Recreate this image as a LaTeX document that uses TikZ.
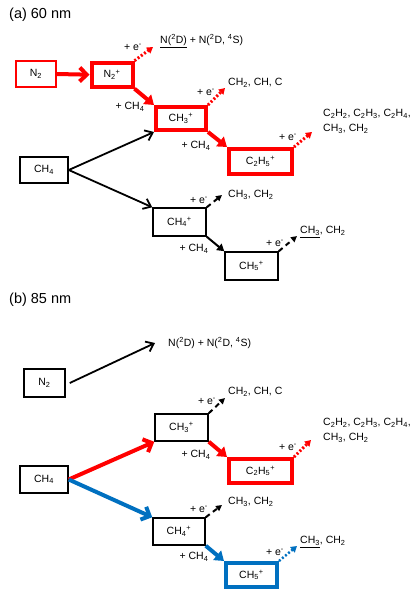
\documentclass[tikz,border=0pt]{standalone}
\usepackage{fontspec}
\setmainfont{Liberation Sans}
\usetikzlibrary{arrows.meta}
\definecolor{myred}{RGB}{255,0,0}
\definecolor{myblue}{RGB}{0,112,192}
\newcommand{\sbs}[1]{\textsubscript{#1}}
\newcommand{\sps}[1]{\textsuperscript{#1}}
\begin{document}
\begin{tikzpicture}[x=1pt,y=-1pt,font=\fontsize{10.5}{12}\selectfont,
  tbox/.style={draw, line width=1.5pt, inner sep=0pt},
  rbox/.style={draw=myred, line width=4pt, inner sep=0pt},
  bbox/.style={draw=myblue, line width=4pt, inner sep=0pt},
  lbl/.style={inner sep=0pt},
  prod/.style={inner sep=0pt, anchor=west},
  ttl/.style={inner sep=0pt, anchor=west, font=\fontsize{14.5}{16}\selectfont},
  blk/.style={line width=1.8pt, -{Straight Barb[length=7pt,width=11pt]}},
  rlong/.style={myred, line width=4pt, -{Straight Barb[length=7pt,width=14pt]}},
  blong/.style={myblue, line width=4pt, -{Straight Barb[length=7pt,width=14pt]}},
  rshort/.style={myred, line width=4pt, -{Triangle[length=9pt,width=12pt]}},
  bshort/.style={myblue, line width=4pt, -{Triangle[length=9pt,width=12pt]}},
  kshort/.style={line width=2pt, -{Triangle[length=7pt,width=8pt]}},
  eblk/.style={line width=2pt, dash pattern=on 5pt off 4pt, -{Triangle[length=6pt,width=6pt]}},
  ered/.style={myred, line width=3pt, dash pattern=on 2pt off 2pt, -{Triangle[length=6pt,width=7pt]}},
  eblue/.style={myblue, line width=2.5pt, dash pattern=on 2pt off 2pt, -{Triangle[length=6pt,width=7pt]}}
]
\useasboundingbox (0,0) rectangle (418,600);

% ---------------- (a) ----------------
\node[ttl] (ta) at (9,15) {(a) 60 nm};

\node[draw=myred, line width=1.5pt, inner sep=0pt, minimum width=40pt, minimum height=26pt] (N2a) at (36,74) {N\sbs{2}};
\node[rbox, minimum width=41pt, minimum height=24pt] (N2pa) at (112,74.7) {N\sbs{2}\sps{+}};
\node[rbox, minimum width=50pt, minimum height=23pt] (CH3pa) at (181,118.5) {CH\sbs{3}\sps{+}};
\node[rbox, minimum width=63pt, minimum height=25pt] (C2H5pa) at (260.5,161.5) {C\sbs{2}H\sbs{5}\sps{+}};
\node[tbox, minimum width=48pt, minimum height=26pt] (CH4a) at (44,170) {CH\sbs{4}};
\node[tbox, minimum width=53pt, minimum height=28pt] (CH4pa) at (179.5,222) {CH\sbs{4}\sps{+}};
\node[tbox, minimum width=53pt, minimum height=28pt] (CH5pa) at (251.5,266) {CH\sbs{5}\sps{+}};

\draw[rlong] (N2a.east) -- (N2pa.west);
\draw[rshort] (N2pa.south east) -- (CH3pa.north west);
\draw[rshort] (CH3pa.south east) -- (C2H5pa.north west);
\draw[blk] (CH4a.east) -- (CH3pa.south west);
\draw[blk] (CH4a.east) -- (CH4pa.north west);
\draw[kshort] (CH4pa.south east) -- (CH5pa.north west);

\coordinate (ea1) at (153,47);
\coordinate (ea2) at (225,88);
\coordinate (ea3) at (312,132);
\coordinate (ea4) at (222,195);
\coordinate (ea5) at (297,236);
\draw[ered] (N2pa.north east) -- (ea1);
\draw[ered] (CH3pa.north east) -- (ea2);
\draw[ered] (C2H5pa.north east) -- (ea3);
\draw[eblk] (CH4pa.north east) -- (ea4);
\draw[eblk] (CH5pa.north east) -- (ea5);

\node[lbl] (la1) at (133,47) {+ e\sps{-}};
\node[lbl] (la2) at (206,92) {+ e\sps{-}};
\node[lbl] (la3) at (288,137) {+ e\sps{-}};
\node[lbl] (la4) at (199,200) {+ e\sps{-}};
\node[lbl] (la5) at (275,243) {+ e\sps{-}};

\node[lbl] (ma1) at (130,107) {+ CH\sbs{4}};
\node[lbl] (ma2) at (196,146) {+ CH\sbs{4}};
\node[lbl] (ma3) at (194,249) {+ CH\sbs{4}};

\node[prod] (pa1) at (160,41) {\underline{N(\sps{2}D)} + N(\sps{2}D, \sps{4}S)};
\node[prod] (pa2) at (228,83) {CH\sbs{2}, CH, C};
\node[prod, align=left, font=\fontsize{10.5}{15}\selectfont] (pa3) at (323,121.5) {C\sbs{2}H\sbs{2}, C\sbs{2}H\sbs{3}, C\sbs{2}H\sbs{4},\\CH\sbs{3}, CH\sbs{2}};
\node[prod] (pa4) at (228,195) {CH\sbs{3}, CH\sbs{2}};
\node[prod] (pa5) at (300,232) {\underline{CH\sbs{3}}, CH\sbs{2}};

% ---------------- (b) ----------------
\node[ttl] (tb) at (9,300) {(b) 85 nm};

\node[tbox, minimum width=41pt, minimum height=28pt] (N2b) at (44.5,383) {N\sbs{2}};
\node[tbox, minimum width=53pt, minimum height=27pt] (CH3pb) at (181.5,427.5) {CH\sbs{3}\sps{+}};
\node[rbox, minimum width=63pt, minimum height=24pt] (C2H5pb) at (260.5,471) {C\sbs{2}H\sbs{5}\sps{+}};
\node[tbox, minimum width=48pt, minimum height=27pt] (CH4b) at (44,479.5) {CH\sbs{4}};
\node[tbox, minimum width=52pt, minimum height=27pt] (CH4pb) at (179,531.5) {CH\sbs{4}\sps{+}};
\node[bbox, minimum width=51pt, minimum height=24pt] (CH5pb) at (251.5,575) {CH\sbs{5}\sps{+}};

\node[prod] (pb1) at (168,343) {N(\sps{2}D) + N(\sps{2}D, \sps{4}S)};
\coordinate (nb) at (155,343);
\draw[blk] ([xshift=4pt]N2b.east) -- (nb);

\draw[rlong] (CH4b.east) -- (CH3pb.south west);
\draw[blong] (CH4b.east) -- (CH4pb.north west);
\draw[rshort] (CH3pb.south east) -- (C2H5pb.north west);
\draw[bshort] (CH4pb.south east) -- (CH5pb.north west);

\coordinate (eb1) at (225,398);
\coordinate (eb2) at (311,440);
\coordinate (eb3) at (222,505);
\coordinate (eb4) at (297,546);
\draw[eblk] (CH3pb.north east) -- (eb1);
\draw[ered] (C2H5pb.north east) -- (eb2);
\draw[eblk] (CH4pb.north east) -- (eb3);
\draw[eblue] (CH5pb.north east) -- (eb4);

\node[lbl] (lb1) at (207,401) {+ e\sps{-}};
\node[lbl] (lb2) at (288,447) {+ e\sps{-}};
\node[lbl] (lb3) at (199,509) {+ e\sps{-}};
\node[lbl] (lb4) at (275,552) {+ e\sps{-}};

\node[lbl] (mb1) at (196,455) {+ CH\sbs{4}};
\node[lbl] (mb2) at (194,557) {+ CH\sbs{4}};

\node[prod] (pb2) at (228,392) {CH\sbs{2}, CH, C};
\node[prod, align=left, font=\fontsize{10.5}{15}\selectfont] (pb3) at (323,430.5) {C\sbs{2}H\sbs{2}, C\sbs{2}H\sbs{3}, C\sbs{2}H\sbs{4},\\CH\sbs{3}, CH\sbs{2}};
\node[prod] (pb4) at (228,502) {CH\sbs{3}, CH\sbs{2}};
\node[prod] (pb5) at (300,542) {\underline{CH\sbs{3}}, CH\sbs{2}};
\end{tikzpicture}
\end{document}
